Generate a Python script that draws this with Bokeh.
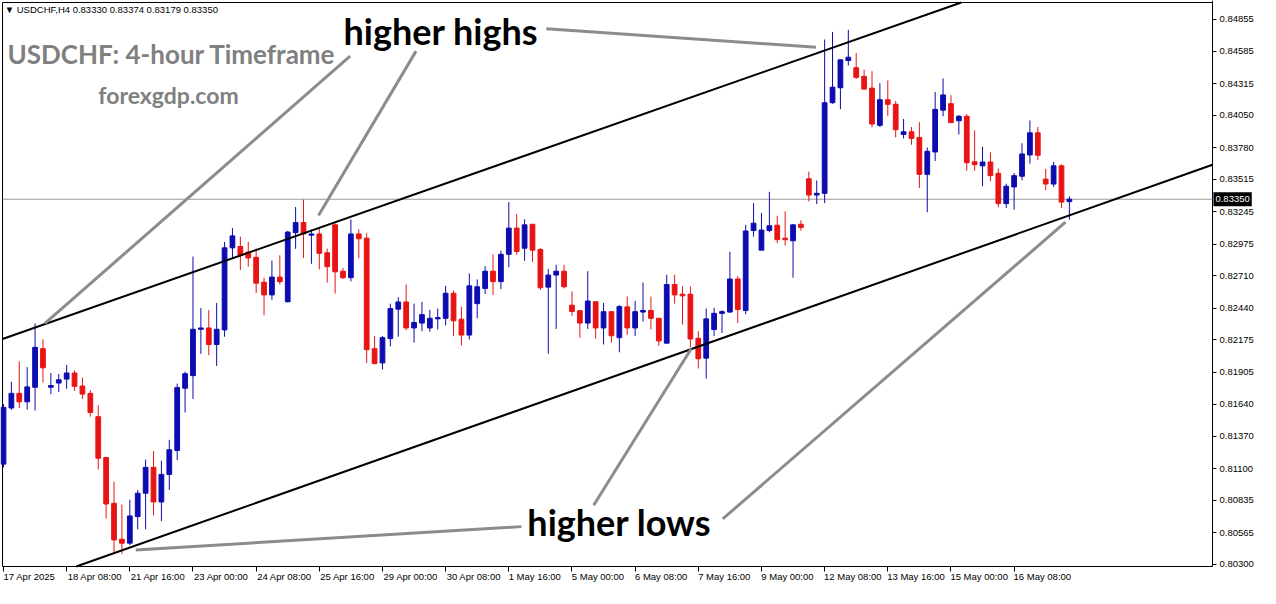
from bokeh.plotting import figure
from bokeh.models import (ColumnDataSource, FixedTicker, Range1d, Label, CustomJSTickFormatter)
from bokeh.embed import file_html
from bokeh.resources import INLINE

# ---------------- data (USDCHF H4 candles) ----------------
opens = [0.81138, 0.81607, 0.81729, 0.81658, 0.81780, 0.82102, 0.81780, 0.81815, 0.81848, 0.81899,
         0.81790, 0.81729, 0.81534, 0.81193, 0.80811, 0.80511, 0.80478, 0.80700, 0.80895, 0.81111,
         0.80822, 0.81052, 0.81252, 0.81772, 0.81877, 0.82264, 0.82275, 0.82137, 0.82259, 0.82944,
         0.82955, 0.82908, 0.82865, 0.82657, 0.82551, 0.82700, 0.82494, 0.83071, 0.83155, 0.83050,
         0.83060, 0.82903, 0.83136, 0.82749, 0.82695, 0.83060, 0.83025, 0.82102, 0.81983, 0.82186,
         0.82432, 0.82492, 0.82275, 0.82316, 0.82275, 0.82351, 0.82356, 0.82565, 0.82348, 0.82216,
         0.82478, 0.82605, 0.82749, 0.82662, 0.82890, 0.83109, 0.82941, 0.83141, 0.82930, 0.82616,
         0.82717, 0.82749, 0.82465, 0.82419, 0.82316, 0.82494, 0.82275, 0.82411, 0.82194, 0.82451,
         0.82275, 0.82408, 0.82421, 0.82356, 0.82148, 0.82638, 0.82557, 0.82557, 0.82189, 0.82023,
         0.82262, 0.82397, 0.82408, 0.82684, 0.82421, 0.83089, 0.82925, 0.83089, 0.83133, 0.83025,
         0.83003, 0.83141, 0.83521, 0.83385, 0.83399, 0.84156, 0.84281, 0.84508, 0.84449, 0.84376,
         0.84278, 0.83967, 0.84181, 0.84143, 0.83891, 0.83913, 0.83866, 0.83558, 0.83745, 0.84094,
         0.84148, 0.84005, 0.84043, 0.83663, 0.83629, 0.83661, 0.83566, 0.83314, 0.83453, 0.83542,
         0.83720, 0.83905, 0.83518, 0.83477, 0.83629, 0.83330]
highs = [0.81639, 0.81826, 0.81997, 0.81948, 0.82313, 0.82181, 0.81899, 0.81891, 0.81966, 0.81921,
         0.81861, 0.81755, 0.81629, 0.81198, 0.80992, 0.80800, 0.80841, 0.80922, 0.81176, 0.81247,
         0.81166, 0.81341, 0.81810, 0.81910, 0.82871, 0.82441, 0.82424, 0.82484, 0.82993, 0.83109,
         0.83038, 0.82993, 0.82938, 0.82695, 0.82838, 0.82882, 0.83085, 0.83285, 0.83347, 0.83098,
         0.83115, 0.82938, 0.83147, 0.82776, 0.83182, 0.83098, 0.83066, 0.82208, 0.82208, 0.82478,
         0.82532, 0.82638, 0.82478, 0.82492, 0.82427, 0.82437, 0.82627, 0.82587, 0.82451, 0.82730,
         0.82681, 0.82790, 0.82890, 0.82920, 0.83326, 0.83228, 0.83182, 0.83141, 0.82944, 0.82768,
         0.82803, 0.82803, 0.82581, 0.82421, 0.82749, 0.82500, 0.82484, 0.82413, 0.82465, 0.82538,
         0.82500, 0.82654, 0.82538, 0.82358, 0.82719, 0.82719, 0.82622, 0.82622, 0.82248, 0.82437,
         0.82443, 0.82424, 0.82912, 0.82709, 0.83136, 0.83318, 0.83236, 0.83412, 0.83212, 0.83249,
         0.83141, 0.83174, 0.83580, 0.83507, 0.84684, 0.84747, 0.84514, 0.84765, 0.84571, 0.84432,
         0.84419, 0.84319, 0.84343, 0.84170, 0.84021, 0.83953, 0.83994, 0.83783, 0.84246, 0.84359,
         0.84219, 0.84053, 0.84061, 0.83925, 0.83789, 0.83742, 0.83607, 0.83480, 0.83569, 0.83817,
         0.84008, 0.83953, 0.83602, 0.83661, 0.83642, 0.83374]
lows = [0.81111, 0.81591, 0.81607, 0.81593, 0.81585, 0.81820, 0.81723, 0.81739, 0.81767, 0.81750,
        0.81682, 0.81534, 0.81093, 0.80684, 0.80397, 0.80389, 0.80462, 0.80594, 0.80594, 0.80711,
        0.80662, 0.80922, 0.81171, 0.81569, 0.81682, 0.82059, 0.82048, 0.81958, 0.82202, 0.82860,
        0.82760, 0.82787, 0.82567, 0.82381, 0.82510, 0.82638, 0.82488, 0.82936, 0.82860, 0.82811,
        0.82765, 0.82654, 0.82562, 0.82684, 0.82665, 0.82857, 0.81983, 0.81970, 0.81929, 0.82121,
        0.82202, 0.82256, 0.82153, 0.82248, 0.82243, 0.82262, 0.82297, 0.82210, 0.82129, 0.82178,
        0.82356, 0.82559, 0.82551, 0.82600, 0.82782, 0.82887, 0.82835, 0.82827, 0.82592, 0.82059,
        0.82267, 0.82605, 0.82376, 0.82194, 0.82267, 0.82186, 0.82137, 0.82153, 0.82072, 0.82218,
        0.82208, 0.82329, 0.82262, 0.82126, 0.82145, 0.82478, 0.82303, 0.82113, 0.81937, 0.81853,
        0.82208, 0.82234, 0.82400, 0.82316, 0.82389, 0.83038, 0.82925, 0.83074, 0.82983, 0.82963,
        0.82695, 0.83087, 0.83331, 0.83310, 0.83318, 0.84148, 0.84102, 0.84467, 0.84354, 0.84264,
        0.83951, 0.83953, 0.84045, 0.83867, 0.83858, 0.83805, 0.83444, 0.83241, 0.83669, 0.84043,
        0.83985, 0.83891, 0.83588, 0.83588, 0.83458, 0.83501, 0.83282, 0.83277, 0.83263, 0.83507,
        0.83647, 0.83677, 0.83425, 0.83453, 0.83277, 0.83179]
closes = [0.81612, 0.81729, 0.81658, 0.81783, 0.82113, 0.81942, 0.81794, 0.81842, 0.81899, 0.81788,
          0.81723, 0.81569, 0.81187, 0.80805, 0.80505, 0.80478, 0.80705, 0.80895, 0.81111, 0.80822,
          0.81052, 0.81258, 0.81777, 0.81893, 0.82264, 0.82275, 0.82137, 0.82264, 0.82944, 0.83044,
          0.82882, 0.82860, 0.82649, 0.82551, 0.82700, 0.82662, 0.83076, 0.83155, 0.83060, 0.83060,
          0.82898, 0.82787, 0.82744, 0.82695, 0.83060, 0.83020, 0.82094, 0.81978, 0.82194, 0.82437,
          0.82492, 0.82275, 0.82321, 0.82386, 0.82356, 0.82362, 0.82565, 0.82335, 0.82216, 0.82627,
          0.82619, 0.82749, 0.82662, 0.82890, 0.83109, 0.82914, 0.83136, 0.82925, 0.82611, 0.82717,
          0.82749, 0.82619, 0.82413, 0.82316, 0.82500, 0.82275, 0.82411, 0.82210, 0.82454, 0.82275,
          0.82411, 0.82421, 0.82356, 0.82167, 0.82638, 0.82551, 0.82543, 0.82183, 0.82018, 0.82351,
          0.82397, 0.82411, 0.82684, 0.82429, 0.83085, 0.83150, 0.83093, 0.83128, 0.83012, 0.83012,
          0.83136, 0.83115, 0.83385, 0.83399, 0.84156, 0.84286, 0.84514, 0.84536, 0.84368, 0.84270,
          0.83978, 0.84181, 0.84143, 0.83931, 0.83913, 0.83858, 0.83558, 0.83750, 0.84100, 0.84221,
          0.83990, 0.84043, 0.83655, 0.83639, 0.83661, 0.83547, 0.83314, 0.83458, 0.83547, 0.83728,
          0.83905, 0.83717, 0.83477, 0.83629, 0.83326, 0.83350]

time_labels = ["17 Apr 2025", "18 Apr 08:00", "21 Apr 16:00", "23 Apr 00:00", "24 Apr 08:00",
               "25 Apr 16:00", "29 Apr 00:00", "30 Apr 08:00", "1 May 16:00", "5 May 00:00",
               "6 May 08:00", "7 May 16:00", "9 May 00:00", "12 May 08:00", "13 May 16:00",
               "15 May 00:00", "16 May 08:00"]
time_label_bars = [0, 8, 16, 24, 32, 40, 48, 56, 64, 72, 80, 88, 96, 104, 112, 120, 128]

price_ticks = [0.84855, 0.84585, 0.84315, 0.84050, 0.83780, 0.83515, 0.83245, 0.82975, 0.82710,
               0.82440, 0.82175, 0.81905, 0.81640, 0.81370, 0.81100, 0.80835, 0.80565, 0.80300]

last_price = 0.83350
header_text = "\u25bc USDCHF,H4  0.83330 0.83374 0.83179 0.83350"

# channel lines: two anchor points each (bar index, price)
upper_channel_bars = [-0.125, 115.0]
upper_channel_prices = [0.82183, 0.84847]
lower_channel_bars = [9.0, 153.1]
lower_channel_prices = [0.80278, 0.83637]

# grey pointer lines (bar index, price) start -> end
pointer_x0 = [43.9, 52.25, 68.75, 65.6, 74.75, 91.1]
pointer_y0 = [0.84546, 0.84587, 0.84774, 0.80616, 0.80795, 0.80681]
pointer_x1 = [5.25, 39.9, 102.9, 16.75, 87.1, 134.5]
pointer_y1 = [0.82313, 0.83214, 0.84619, 0.80421, 0.82102, 0.83158]

# ---------------- layout constants ----------------
W, H = 1260, 588
XL, XR = -0.125, 153.125          # chart box, left border .. price axis (bars)
YB, YT = 0.80283, 0.84993         # chart box, bottom .. top border (price)
PX_PER_BAR = (1212 - 2) / (XR - XL)
PX_PER_PRICE = (566 - 2) / (YT - YB)
xs = XL - 2 / PX_PER_BAR
xe = xs + W / PX_PER_BAR
ye = YT + 2 / PX_PER_PRICE
ys = ye - H / PX_PER_PRICE

BLUE = "#0c0cb0"
RED = "#e81414"

p = figure(width=W, height=H, x_range=Range1d(xs, xe), y_range=Range1d(ys, ye),
           output_backend="svg", toolbar_location=None, y_axis_location="right",
           min_border_left=0, min_border_top=0, min_border_right=0, min_border_bottom=0)
p.xgrid.visible = False
p.ygrid.visible = False
p.outline_line_color = None
p.background_fill_color = "white"
p.border_fill_color = "white"

n = len(opens)
idx = list(range(n))
cols = [BLUE if c >= o else RED for o, c in zip(opens, closes)]
src = ColumnDataSource(dict(x=idx, o=opens, h=highs, l=lows, c=closes,
                            top=[max(o, c) for o, c in zip(opens, closes)],
                            bot=[min(o, c) for o, c in zip(opens, closes)],
                            color=cols))

# chart border (left, top, bottom, price-axis line)
p.segment(x0=[XL, XL, XL, XR], y0=[YB, YT, YB, YB], x1=[XL, XR, XR, XR], y1=[YT, YT, YB, ye],
          line_color="black", line_width=1)

# current price line
p.segment(x0=[XL], y0=[last_price], x1=[XR], y1=[last_price], line_color="#9a9a9a", line_width=1)

# candles
p.segment(x0="x", y0="l", x1="x", y1="h", source=src, line_color="color", line_width=1)
p.vbar(x="x", top="top", bottom="bot", width=0.6, source=src, fill_color="color",
       line_color="color", line_width=1)

# channel lines, clipped to the chart box
def clipped(bx, py):
    s = (py[1] - py[0]) / (bx[1] - bx[0])
    yat = lambda x: py[0] + s * (x - bx[0])
    xat = lambda y: bx[0] + (y - py[0]) / s
    xa = XL if yat(XL) >= YB else xat(YB)
    xb = XR if yat(XR) <= YT else xat(YT)
    return [xa, xb], [yat(xa), yat(xb)]

ux, uy = clipped(upper_channel_bars, upper_channel_prices)
lx, ly = clipped(lower_channel_bars, lower_channel_prices)
p.line(ux, uy, line_color="black", line_width=2)
p.line(lx, ly, line_color="black", line_width=2)

# grey pointers
p.segment(x0=pointer_x0, y0=pointer_y0, x1=pointer_x1, y1=pointer_y1,
          line_color="#8c8c8c", line_width=3)

# texts
p.add_layout(Label(x=55.4, y=0.84757, text="higher highs", text_font="Lato",
                   text_font_style="bold", text_font_size="36px", text_color="black",
                   text_align="center", text_baseline="middle"))
p.add_layout(Label(x=78.0, y=0.80657, text="higher lows", text_font="Lato",
                   text_font_style="bold", text_font_size="36px", text_color="black",
                   text_align="center", text_baseline="middle"))
p.add_layout(Label(x=21.3, y=0.84562, text="USDCHF: 4-hour Timeframe", text_font="Lato",
                   text_font_style="bold", text_font_size="26px", text_color="#808080",
                   text_align="center", text_baseline="middle"))
p.add_layout(Label(x=20.9, y=0.84221, text="forexgdp.com", text_font="Lato",
                   text_font_style="bold", text_font_size="23px", text_color="#808080",
                   text_align="center", text_baseline="middle"))
p.add_layout(Label(x=0.15, y=YT - 0.00012, text=header_text, text_font="Liberation Sans",
                   text_font_size="9.5px", text_color="black", text_align="left",
                   text_baseline="top"))

# current price tag on the price axis
p.add_layout(Label(x=XR + 0.12, y=last_price, text=f"{last_price:.5f}", text_font="Liberation Sans",
                   text_font_size="9.5px", text_color="white", text_align="left",
                   text_baseline="middle", background_fill_color="black", padding=(2, 4)))

# ---------------- axes ----------------
label_pos = [b + (len(t) * 4.45 / 2 + 1.5) / PX_PER_BAR for b, t in zip(time_label_bars, time_labels)]
xa = p.xaxis[0]
xa.fixed_location = YB
xa.ticker = FixedTicker(ticks=label_pos, minor_ticks=time_label_bars)
xa.formatter = CustomJSTickFormatter(args=dict(pos=label_pos, labs=time_labels), code="""
let best = 0, d = 1e9;
for (let i = 0; i < pos.length; i++) { const e = Math.abs(pos[i] - tick); if (e < d) { d = e; best = i; } }
return labs[best];
""")
xa.axis_line_color = None
xa.major_tick_line_color = None
xa.minor_tick_line_color = "black"
xa.minor_tick_out = 5
xa.minor_tick_in = 0
xa.major_label_standoff = -2
xa.major_label_text_font = "Liberation Sans"
xa.major_label_text_font_size = "9.5px"
xa.major_label_text_color = "black"

ya = p.yaxis[0]
ya.fixed_location = XR
ya.ticker = FixedTicker(ticks=price_ticks, minor_ticks=[])
ya.formatter = CustomJSTickFormatter(code="return tick.toFixed(5);")
ya.axis_line_color = None
ya.major_tick_out = 4
ya.major_tick_in = 0
ya.major_tick_line_color = "black"
ya.major_label_standoff = 3
ya.major_label_text_font = "Liberation Sans"
ya.major_label_text_font_size = "9.5px"
ya.major_label_text_color = "black"

open("out.html", "w").write(file_html(p, INLINE))
